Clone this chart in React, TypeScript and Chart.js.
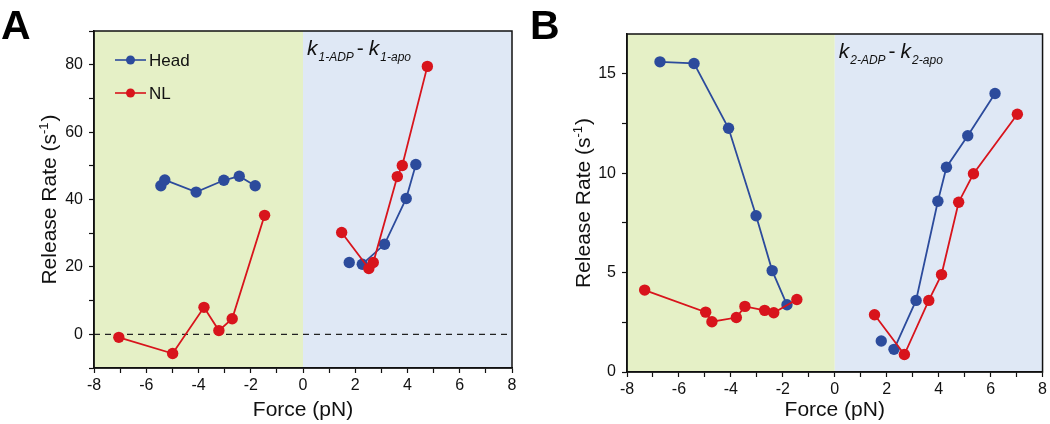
import React, { useEffect, useRef } from 'react';
import { Chart, registerables } from 'chart.js';

Chart.register(...registerables);

const FONT = '"Liberation Sans", Arial, Helvetica, sans-serif';
const BLUE = '#2c4b9c';
const RED = '#d8141c';
const GREEN_BG = '#e5f0c6';
const BLUE_BG = '#dfe8f5';

// ---------- Panel A data (k1-ADP - k1-apo) ----------
const headA_leftForce = [-5.44, -5.29, -4.09, -3.03, -2.44, -1.83];
const headA_leftRate = [44.1, 45.8, 42.2, 45.7, 46.9, 44.1];
const headA_soloForce = [1.77];
const headA_soloRate = [21.3];
const headA_rightForce = [2.27, 3.12, 3.95, 4.32];
const headA_rightRate = [20.8, 26.7, 40.3, 50.4];

const nlA_leftForce = [-7.05, -4.99, -3.79, -3.22, -2.71, -1.47];
const nlA_leftRate = [-0.9, -5.7, 8.0, 1.1, 4.6, 35.3];
const nlA_rightForce = [1.48, 2.52, 2.69, 3.61, 3.8, 4.76];
const nlA_rightRate = [30.2, 19.5, 21.3, 46.8, 50.1, 79.5];

// ---------- Panel B data (k2-ADP - k2-apo) ----------
const headB_leftForce = [-6.73, -5.42, -4.09, -3.03, -2.41, -1.84];
const headB_leftRate = [15.6, 15.52, 12.26, 7.86, 5.1, 3.38];
const headB_soloForce = [1.79];
const headB_soloRate = [1.56];
const headB_rightForce = [2.28, 3.13, 3.97, 4.3, 5.12, 6.17];
const headB_rightRate = [1.14, 3.6, 8.59, 10.3, 11.88, 14.01];

const nlB_leftForce = [-7.32, -4.97, -4.73, -3.79, -3.46, -2.7, -2.35, -1.46];
const nlB_leftRate = [4.12, 3.01, 2.53, 2.74, 3.3, 3.1, 2.98, 3.65];
const nlB_rightForce = [1.53, 2.68, 3.62, 4.11, 4.77, 5.34, 7.03];
const nlB_rightRate = [2.88, 0.88, 3.6, 4.9, 8.54, 9.97, 12.96];

// ---------- Axis ticks ----------
const forceTicks = [-8, -7, -6, -5, -4, -3, -2, -1, 0, 1, 2, 3, 4, 5, 6, 7, 8];
const forceLabelTicks = [-8, -6, -4, -2, 0, 2, 4, 6, 8];
const rateTicksA = [-10, 0, 10, 20, 30, 40, 50, 60, 70, 80, 90];
const rateLabelTicksA = [0, 20, 40, 60, 80];
const rateTicksB = [0, 2.5, 5, 7.5, 10, 12.5, 15];
const rateLabelTicksB = [0, 5, 10, 15];

const legendLabels = ['Head', 'NL'];
const xTitle = 'Force (pN)';
const yTitle = 'Release Rate (s';

type Seg = { xs: number[]; ys: number[]; color: string; line: boolean };

const segsA: Seg[] = [
  { xs: nlA_leftForce, ys: nlA_leftRate, color: RED, line: true },
  { xs: nlA_rightForce, ys: nlA_rightRate, color: RED, line: true },
  { xs: headA_leftForce, ys: headA_leftRate, color: BLUE, line: true },
  { xs: headA_soloForce, ys: headA_soloRate, color: BLUE, line: false },
  { xs: headA_rightForce, ys: headA_rightRate, color: BLUE, line: true },
];

const segsB: Seg[] = [
  { xs: nlB_leftForce, ys: nlB_leftRate, color: RED, line: true },
  { xs: nlB_rightForce, ys: nlB_rightRate, color: RED, line: true },
  { xs: headB_leftForce, ys: headB_leftRate, color: BLUE, line: true },
  { xs: headB_soloForce, ys: headB_soloRate, color: BLUE, line: false },
  { xs: headB_rightForce, ys: headB_rightRate, color: BLUE, line: true },
];

type PanelCfg = {
  letter: string;
  letterX: number;
  sub: string;
  segs: Seg[];
  yMin: number;
  yMax: number;
  yTicks: number[];
  yLabels: number[];
  yWidth: number;
  xHeight: number;
  padRight: number;
  padTop: number;
  yTitleX: number;
  annoBaseline: number;
  zeroLine: boolean;
  legend: boolean;
};

function drawDecor(chart: any, cfg: PanelCfg, phase: string) {
  const ctx = chart.ctx as CanvasRenderingContext2D;
  const ca = chart.chartArea;
  const xs = chart.scales.x;
  const x0 = xs.getPixelForValue(0);
  if (phase === 'bg') {
    ctx.save();
    ctx.fillStyle = GREEN_BG;
    ctx.fillRect(ca.left, ca.top, x0 - ca.left, ca.bottom - ca.top);
    ctx.fillStyle = BLUE_BG;
    ctx.fillRect(x0, ca.top, ca.right - x0, ca.bottom - ca.top);
    ctx.restore();
    return;
  }
  if (phase === 'under') {
    if (cfg.zeroLine) {
      const y0 = chart.scales.y.getPixelForValue(0);
      ctx.save();
      ctx.strokeStyle = '#222';
      ctx.lineWidth = 1.2;
      ctx.setLineDash([6, 5]);
      ctx.beginPath();
      ctx.moveTo(ca.left, y0);
      ctx.lineTo(ca.right, y0);
      ctx.stroke();
      ctx.restore();
    }
    return;
  }
  // phase 'over'
  ctx.save();
  ctx.strokeStyle = '#111';
  ctx.lineWidth = 1.5;
  ctx.strokeRect(ca.left, ca.top, ca.right - ca.left, ca.bottom - ca.top);

  // panel letter
  ctx.fillStyle = '#000';
  ctx.font = `bold 41px ${FONT}`;
  ctx.textBaseline = 'alphabetic';
  ctx.textAlign = 'left';
  ctx.fillText(cfg.letter, cfg.letterX, 39);

  // annotation k_sub-ADP - k_sub-apo
  let ax = x0 + 4;
  const ab = cfg.annoBaseline;
  const big = `italic 21px ${FONT}`;
  const small = `italic 12px ${FONT}`;
  ctx.fillStyle = '#111';
  ctx.font = big;
  ctx.fillText('k', ax, ab);
  ax += ctx.measureText('k').width + 1;
  ctx.font = small;
  ctx.fillText(`${cfg.sub}-ADP`, ax, ab + 6);
  ax += ctx.measureText(`${cfg.sub}-ADP`).width + 3;
  ctx.font = `21px ${FONT}`;
  ctx.fillText('-', ax, ab);
  ax += ctx.measureText('-').width + 5;
  ctx.font = big;
  ctx.fillText('k', ax, ab);
  ax += ctx.measureText('k').width + 1;
  ctx.font = small;
  ctx.fillText(`${cfg.sub}-apo`, ax, ab + 6);

  // x title
  ctx.font = `21px ${FONT}`;
  ctx.textAlign = 'center';
  ctx.fillStyle = '#111';
  ctx.fillText(xTitle, (ca.left + ca.right) / 2, 416);

  // y title with superscript
  ctx.save();
  const cy = (ca.top + ca.bottom) / 2;
  ctx.translate(cfg.yTitleX, cy);
  ctx.rotate(-Math.PI / 2);
  ctx.textAlign = 'left';
  ctx.font = `21px ${FONT}`;
  const w1 = ctx.measureText(yTitle).width;
  ctx.font = `13px ${FONT}`;
  const w2 = ctx.measureText('-1').width;
  ctx.font = `21px ${FONT}`;
  const w3 = ctx.measureText(')').width;
  let tx = -(w1 + w2 + w3 + 1) / 2;
  const base = 7.5;
  ctx.fillText(yTitle, tx, base);
  tx += w1;
  ctx.font = `13px ${FONT}`;
  ctx.fillText('-1', tx, base - 8);
  tx += w2 + 1;
  ctx.font = `21px ${FONT}`;
  ctx.fillText(')', tx, base);
  ctx.restore();

  // legend
  if (cfg.legend) {
    const cols = [BLUE, RED];
    const ys = [60, 93];
    legendLabels.forEach((lab, i) => {
      const y = ys[i];
      ctx.strokeStyle = cols[i];
      ctx.lineWidth = 1.6;
      ctx.beginPath();
      ctx.moveTo(115, y);
      ctx.lineTo(146, y);
      ctx.stroke();
      ctx.fillStyle = cols[i];
      ctx.beginPath();
      ctx.arc(130.5, y, 4.5, 0, Math.PI * 2);
      ctx.fill();
      ctx.fillStyle = '#111';
      ctx.font = `17px ${FONT}`;
      ctx.textAlign = 'left';
      ctx.textBaseline = 'middle';
      ctx.fillText(lab, 149, y + 1);
    });
  }
  ctx.restore();
}

function buildConfig(cfg: PanelCfg): any {
  const datasets = cfg.segs.map((s) => ({
    data: s.xs.map((x, i) => ({ x, y: s.ys[i] })),
    showLine: s.line,
    borderColor: s.color,
    backgroundColor: s.color,
    borderWidth: 1.8,
    pointRadius: 5.7,
    pointBorderWidth: 0,
    pointBackgroundColor: s.color,
  }));
  const tickFont = { family: FONT, size: 16 };
  return {
    type: 'scatter',
    data: { datasets },
    options: {
      animation: false,
      responsive: false,
      devicePixelRatio: 1,
      events: [],
      layout: { padding: { left: 0, right: cfg.padRight, top: cfg.padTop, bottom: 0 } },
      plugins: { legend: { display: false }, tooltip: { enabled: false }, title: { display: false } },
      scales: {
        x: {
          type: 'linear',
          min: -8,
          max: 8,
          afterBuildTicks: (s: any) => {
            s.ticks = forceTicks.map((v) => ({ value: v }));
          },
          afterFit: (s: any) => {
            s.height = cfg.xHeight;
          },
          ticks: {
            autoSkip: false,
            maxRotation: 0,
            padding: 3,
            color: '#111',
            font: tickFont,
            callback: (v: number) => (forceLabelTicks.includes(v) ? String(v) : ''),
          },
          grid: { drawOnChartArea: false, drawTicks: true, tickLength: 5, tickColor: '#111', tickWidth: 1.2 },
          border: { display: true, color: '#111', width: 1.5 },
          title: { display: false },
        },
        y: {
          type: 'linear',
          min: cfg.yMin,
          max: cfg.yMax,
          afterBuildTicks: (s: any) => {
            s.ticks = cfg.yTicks.map((v) => ({ value: v }));
          },
          afterFit: (s: any) => {
            s.width = cfg.yWidth;
          },
          ticks: {
            autoSkip: false,
            padding: 6,
            color: '#111',
            font: tickFont,
            callback: (v: number) => (cfg.yLabels.includes(v) ? String(v) : ''),
          },
          grid: { drawOnChartArea: false, drawTicks: true, tickLength: 5, tickColor: '#111', tickWidth: 1.2 },
          border: { display: true, color: '#111', width: 1.5 },
          title: { display: false },
        },
      },
    },
    plugins: [
      {
        id: 'decor',
        beforeDraw: (c: any) => drawDecor(c, cfg, 'bg'),
        beforeDatasetsDraw: (c: any) => drawDecor(c, cfg, 'under'),
        afterDraw: (c: any) => drawDecor(c, cfg, 'over'),
      },
    ],
  };
}

const panelA: PanelCfg = {
  letter: 'A',
  letterX: 1,
  sub: '1',
  segs: segsA,
  yMin: -10,
  yMax: 90,
  yTicks: rateTicksA,
  yLabels: rateLabelTicksA,
  yWidth: 94,
  xHeight: 56,
  padRight: 13,
  padTop: 31,
  yTitleX: 48,
  annoBaseline: 55,
  zeroLine: true,
  legend: true,
};

const panelB: PanelCfg = {
  letter: 'B',
  letterX: 5,
  sub: '2',
  segs: segsB,
  yMin: 0,
  yMax: 17,
  yTicks: rateTicksB,
  yLabels: rateLabelTicksB,
  yWidth: 102,
  xHeight: 52,
  padRight: 5,
  padTop: 34,
  yTitleX: 57.5,
  annoBaseline: 58,
  zeroLine: false,
  legend: false,
};

function Panel({ cfg }: { cfg: PanelCfg }) {
  const ref = useRef<HTMLCanvasElement | null>(null);
  useEffect(() => {
    if (!ref.current) return;
    const chart = new Chart(ref.current, buildConfig(cfg));
    return () => chart.destroy();
  }, [cfg]);
  return <canvas ref={ref} width={525} height={424} style={{ display: 'block', width: 525, height: 424 }} />;
}

export default function App() {
  return (
    <div
      style={{
        position: 'fixed',
        left: 0,
        top: 0,
        width: 1050,
        height: 424,
        display: 'flex',
        background: '#ffffff',
      }}
    >
      <Panel cfg={panelA} />
      <Panel cfg={panelB} />
    </div>
  );
}
